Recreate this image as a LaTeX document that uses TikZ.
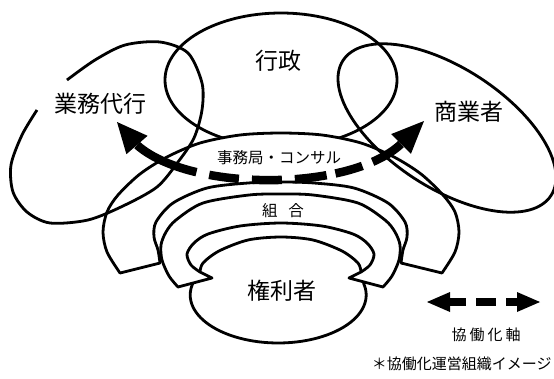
\documentclass[tikz,border=0pt]{standalone}
\usepackage{fontspec}
\newfontfamily\jp{Noto Sans CJK JP}
\begin{document}
\begin{tikzpicture}[x=1pt,y=-1pt, line width=2.8pt, line join=round,
  big/.style={font=\jp\fontsize{23}{23}\selectfont, inner sep=1pt},
  mid/.style={font=\jp\fontsize{15.5}{15.5}\selectfont, inner sep=1pt},
  outl/.style={draw=black, line width=2.8pt},
  band/.style={outl, fill=white},
  thickarrow/.style={line width=8.5pt, line cap=butt}]
\useasboundingbox[fill=white] (0,0) rectangle (554,378);

% 行政 ellipse (bottom hidden by the outer band)
\draw[outl] (281,80) ellipse[x radius=116, y radius=67];

% outer band (事務局・コンサル)
\draw[band] plot[smooth] coordinates {(120,273) (107,252) (103,232) (107,212) (118,195) (140,174) (167,157) (200,143) (240,135) (281,133) (322,135) (361,143) (394,157) (421,174) (443,195) (455,212) (459,232) (455,252) (442,273)}
  -- (401,263)
  -- plot[smooth] coordinates {(401,263) (403,250) (407,237) (405,222) (388,203) (354,188) (314,183) (281,182) (248,183) (207,188) (173,203) (156,222) (154,237) (158,250) (160,263)}
  -- cycle;

% 業務代行 loop (open at upper left)
\draw[outl] plot[smooth] coordinates {(37,110) (22,135) (11,165) (13,192) (27,212) (50,223) (88,220) (123,206) (157,187) (178,162) (194,138) (202,110) (202,83) (188,53) (160,42) (125,45) (95,60) (67,80)};

% 商業者 ellipse (tilted)
\draw[outl] plot[domain=0:360, samples=121]
  ({447+124*cos(\x)*cos(33)-60*sin(\x)*sin(33)}, {128+124*cos(\x)*sin(33)+60*sin(\x)*cos(33)}) -- cycle;

% 権利者 (lower part of ellipse)
\draw[outl] plot[domain=-14.5:194.5, samples=60] ({278.2+88*cos(\x)}, {295+48*sin(\x)});

% middle band (組合) with notched ends
\draw[band] plot[smooth] coordinates {(178,287) (169,276) (162,260) (161,245) (166,232) (176,220) (203,203) (249,195) (281,194) (313,195) (358,203) (385,220) (395,232) (400,245) (399,260) (392,276) (383,287)}
  -- (349,278) -- (361,272)
  -- plot[smooth] coordinates {(361,272) (358,263) (342,251) (313,240) (281,237) (248,240) (219,251) (203,263) (200,272)}
  -- (212,278) -- cycle;
\draw[outl] plot[smooth] coordinates {(200,272) (191,265) (187,254) (194,243) (208,234) (240,226) (281,223) (322,226) (353,234) (367,243) (374,254) (370,265) (361,272)};

% dashed double arrow along the arc
\draw[thickarrow, dash pattern=on 66pt off 13pt on 30pt off 13pt on 30pt off 13pt on 32pt off 9pt on 28pt off 11pt on 80pt]
  (137,145) .. controls (190,192) and (350,192) .. (401,144);
\fill (117,122) -- (147.6,135.8) -- (126.4,154.2) -- cycle;
\fill (424,121) -- (410.9,153.9) -- (391.1,134.1) -- cycle;

% labels
\node[big] (gyosei) at (278,61) {行政};
\node[big] (gyomu) at (100,104) {業務代行};
\node[big] (shogyo) at (469,112) {商業者};
\node[big] (kenri) at (282,291) {権利者};
\node[mid, fill=white] (jimu) at (279,158) {事務局・コンサル};
\node[mid, fill=white] (kumiai) at (283,211) {組\hspace{0.7em}合};

% legend
\draw[line width=8pt, line cap=butt, dash pattern=on 17pt off 10pt on 20pt off 10pt on 20pt] (449,302) -- (518,302);
\fill (427,302) -- (450,292) -- (450,312) -- cycle;
\fill (540,302) -- (517,292) -- (517,312) -- cycle;
\node[font=\jp\fontsize{15}{15}\selectfont, inner sep=1pt] (axis) at (486,335) {協\hspace{3pt}働\hspace{3pt}化\hspace{3pt}軸};
\node[font=\jp\fontsize{15}{15}\selectfont, inner sep=0pt, anchor=east] (note) at (553,364) {＊協働化運営組織イメージ};
\end{tikzpicture}
\end{document}
